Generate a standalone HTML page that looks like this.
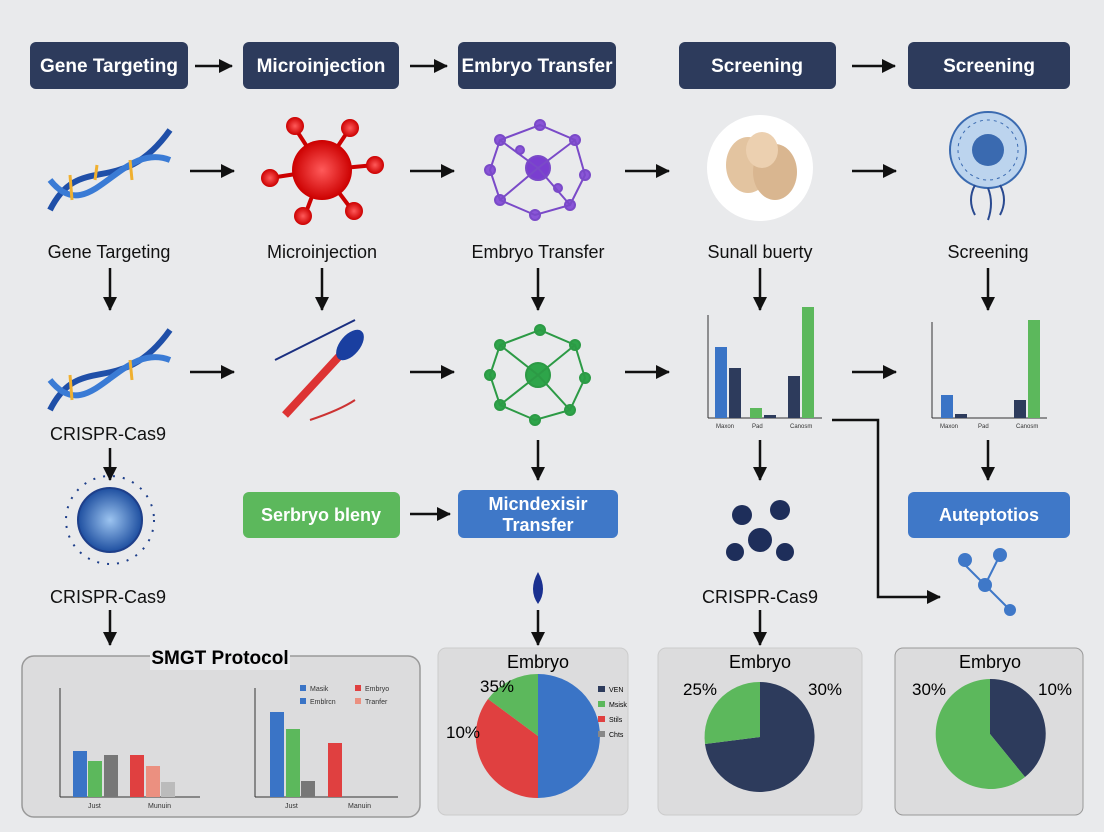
<!DOCTYPE html><html><head><style>body{margin:0;background:#e9eaec}svg{display:block}text{font-family:"Liberation Sans",sans-serif}</style></head><body>
<svg width="1104" height="832" viewBox="0 0 1104 832" xmlns="http://www.w3.org/2000/svg">
<defs><marker id="a" markerUnits="userSpaceOnUse" markerWidth="16" markerHeight="16" refX="13" refY="8" orient="auto"><path d="M0,1L14,8L0,15z" fill="#111"/></marker>
<radialGradient id="rg"><stop offset="0" stop-color="#ff5a5a"/><stop offset="1" stop-color="#c00"/></radialGradient>
<radialGradient id="bg"><stop offset="0" stop-color="#9cc4f0"/><stop offset="1" stop-color="#1e4fa0"/></radialGradient></defs>
<rect width="1104" height="832" fill="#e9eaec"/>
<g fill="#2d3b5c"><rect x="30" y="42" width="158" height="47" rx="6"/><rect x="243" y="42" width="156" height="47" rx="6"/><rect x="458" y="42" width="158" height="47" rx="6"/><rect x="679" y="42" width="157" height="47" rx="6"/><rect x="908" y="42" width="162" height="47" rx="6"/></g>
<g fill="#fff" font-size="19" font-weight="bold" text-anchor="middle"><text x="109" y="72">Gene Targeting</text><text x="321" y="72">Microinjection</text><text x="537" y="72">Embryo Transfer</text><text x="757" y="72">Screening</text><text x="989" y="72">Screening</text></g>
<g stroke="#111" stroke-width="2.5" marker-end="url(#a)">
<line x1="195" y1="66" x2="232" y2="66"/><line x1="410" y1="66" x2="447" y2="66"/><line x1="852" y1="66" x2="895" y2="66"/>
<line x1="190" y1="171" x2="234" y2="171"/><line x1="410" y1="171" x2="454" y2="171"/><line x1="625" y1="171" x2="669" y2="171"/><line x1="852" y1="171" x2="896" y2="171"/>
<line x1="190" y1="372" x2="234" y2="372"/><line x1="410" y1="372" x2="454" y2="372"/><line x1="625" y1="372" x2="669" y2="372"/><line x1="852" y1="372" x2="896" y2="372"/>
<line x1="110" y1="268" x2="110" y2="310"/><line x1="322" y1="268" x2="322" y2="310"/><line x1="538" y1="268" x2="538" y2="310"/><line x1="760" y1="268" x2="760" y2="310"/><line x1="988" y1="268" x2="988" y2="310"/>
<line x1="110" y1="448" x2="110" y2="480"/><line x1="538" y1="440" x2="538" y2="480"/><line x1="760" y1="440" x2="760" y2="480"/><line x1="988" y1="440" x2="988" y2="480"/>
<line x1="410" y1="514" x2="450" y2="514"/>
<line x1="110" y1="610" x2="110" y2="645"/><line x1="538" y1="610" x2="538" y2="645"/><line x1="760" y1="610" x2="760" y2="645"/>
<polyline points="832,420 878,420 878,597 940,597" fill="none"/></g>
<g stroke-width="6" fill="none"><path d="M50,210 C80,150 120,200 170,130" stroke="#1f4fa8"/><path d="M50,180 C90,230 120,140 170,160" stroke="#3a7bd5"/>
<path d="M50,410 C80,350 120,400 170,330" stroke="#1f4fa8"/><path d="M50,380 C90,430 120,340 170,360" stroke="#3a7bd5"/></g>
<g stroke="#f0b030" stroke-width="3"><line x1="70" y1="175" x2="72" y2="200"/><line x1="95" y1="180" x2="97" y2="165"/><line x1="130" y1="160" x2="132" y2="180"/><line x1="70" y1="375" x2="72" y2="400"/><line x1="130" y1="360" x2="132" y2="380"/></g>
<g stroke="#c00" stroke-width="4"><line x1="322" y1="170" x2="295" y2="128"/><line x1="322" y1="170" x2="350" y2="128"/><line x1="322" y1="170" x2="270" y2="178"/><line x1="322" y1="170" x2="375" y2="165"/><line x1="322" y1="170" x2="305" y2="215"/><line x1="322" y1="170" x2="352" y2="210"/></g>
<g fill="url(#rg)"><circle cx="322" cy="170" r="30"/><circle cx="295" cy="126" r="9"/><circle cx="350" cy="128" r="9"/><circle cx="270" cy="178" r="9"/><circle cx="375" cy="165" r="9"/><circle cx="303" cy="216" r="9"/><circle cx="354" cy="211" r="9"/></g>
<g stroke="#7a4ac8" stroke-width="2" fill="#7a3ed0"><circle cx="538" cy="168" r="12"/>
<g fill="#8a55d8"><circle cx="500" cy="140" r="5"/><circle cx="540" cy="125" r="5"/><circle cx="575" cy="140" r="5"/><circle cx="585" cy="175" r="5"/><circle cx="570" cy="205" r="5"/><circle cx="535" cy="215" r="5"/><circle cx="500" cy="200" r="5"/><circle cx="490" cy="170" r="5"/><circle cx="520" cy="150" r="4"/><circle cx="558" cy="188" r="4"/></g>
<path d="M500,140L540,125L575,140L585,175L570,205L535,215L500,200L490,170Z M538,168L500,140M538,168L575,140M538,168L570,205M538,168L500,200" fill="none"/></g>
<g stroke="#2c9a45" stroke-width="2" fill="#2ea54a"><circle cx="538" cy="375" r="12"/>
<g><circle cx="500" cy="345" r="5"/><circle cx="540" cy="330" r="5"/><circle cx="575" cy="345" r="5"/><circle cx="585" cy="378" r="5"/><circle cx="570" cy="410" r="5"/><circle cx="535" cy="420" r="5"/><circle cx="500" cy="405" r="5"/><circle cx="490" cy="375" r="5"/></g>
<path d="M500,345L540,330L575,345L585,378L570,410L535,420L500,405L490,375Z M538,375L500,345M538,375L575,345M538,375L570,410M538,375L500,405" fill="none"/></g>
<circle cx="760" cy="168" r="53" fill="#fff"/><ellipse cx="748" cy="165" rx="22" ry="28" fill="#e3c4a0"/><ellipse cx="775" cy="172" rx="22" ry="28" fill="#d9b690"/><ellipse cx="762" cy="150" rx="16" ry="18" fill="#ecd0b0"/>
<circle cx="988" cy="150" r="38" fill="#bcd4ee" stroke="#3a6ab0" stroke-width="2"/><circle cx="988" cy="150" r="30" fill="none" stroke="#3a6ab0" stroke-dasharray="3 4"/><circle cx="988" cy="150" r="16" fill="#3a6ab0"/>
<g stroke="#2a4a90" stroke-width="2" fill="none"><path d="M975,185 q-8,15 0,30"/><path d="M988,188 q6,15 0,32"/><path d="M1000,185 q8,15 0,30"/></g>
<line x1="285" y1="415" x2="345" y2="350" stroke="#d33" stroke-width="8"/><ellipse cx="350" cy="345" rx="10" ry="18" transform="rotate(40 350 345)" fill="#1a3fa0"/>
<path d="M275,360 q40,-20 80,-40" stroke="#1a2f80" stroke-width="2" fill="none"/><path d="M310,420 q30,-10 45,-20" stroke="#c33" stroke-width="2" fill="none"/>
<g font-size="18" text-anchor="middle" fill="#111"><text x="109" y="258">Gene Targeting</text><text x="322" y="258">Microinjection</text><text x="538" y="258">Embryo Transfer</text><text x="760" y="258">Sunall buerty</text><text x="988" y="258">Screening</text>
<text x="108" y="440">CRISPR-Cas9</text><text x="108" y="603">CRISPR-Cas9</text><text x="760" y="603">CRISPR-Cas9</text></g>
<g font-size="6" fill="#333"><line x1="708" y1="315" x2="708" y2="418" stroke="#333"/><line x1="708" y1="418" x2="822" y2="418" stroke="#333"/>
<rect x="715" y="347" width="12" height="71" fill="#3a74c6"/><rect x="729" y="368" width="12" height="50" fill="#2d3b5c"/><rect x="750" y="408" width="12" height="10" fill="#5cb85c"/><rect x="764" y="415" width="12" height="3" fill="#2d3b5c"/><rect x="788" y="376" width="12" height="42" fill="#2d3b5c"/><rect x="802" y="307" width="12" height="111" fill="#5cb85c"/>
<text x="716" y="428">Maxon</text><text x="752" y="428">Pad</text><text x="790" y="428">Canosm</text>
<line x1="932" y1="322" x2="932" y2="418" stroke="#333"/><line x1="932" y1="418" x2="1047" y2="418" stroke="#333"/>
<rect x="941" y="395" width="12" height="23" fill="#3a74c6"/><rect x="955" y="414" width="12" height="4" fill="#2d3b5c"/><rect x="1014" y="400" width="12" height="18" fill="#2d3b5c"/><rect x="1028" y="320" width="12" height="98" fill="#5cb85c"/>
<text x="940" y="428">Maxon</text><text x="978" y="428">Pad</text><text x="1016" y="428">Canosm</text></g>
<circle cx="110" cy="520" r="32" fill="url(#bg)" stroke="#1e3f8a" stroke-width="2"/><circle cx="110" cy="520" r="44" fill="none" stroke="#1e3f8a" stroke-width="2" stroke-dasharray="2 8"/>
<rect x="243" y="492" width="157" height="46" rx="6" fill="#5cb85c"/><rect x="458" y="490" width="160" height="48" rx="6" fill="#3f78c8"/><rect x="908" y="492" width="162" height="46" rx="6" fill="#3f78c8"/>
<g fill="#fff" font-size="18" font-weight="bold" text-anchor="middle"><text x="321" y="521">Serbryo bleny</text><text x="538" y="510">Micndexisir</text><text x="538" y="531">Transfer</text><text x="989" y="521">Auteptotios</text></g>
<path d="M538,572 q-10,18 0,32 q10,-14 0,-32z" fill="#1a3090"/>
<g fill="#1e2e5a"><circle cx="742" cy="515" r="10"/><circle cx="780" cy="510" r="10"/><circle cx="760" cy="540" r="12"/><circle cx="735" cy="552" r="9"/><circle cx="785" cy="552" r="9"/></g>
<g fill="#3f78c8"><circle cx="965" cy="560" r="7"/><circle cx="1000" cy="555" r="7"/><circle cx="985" cy="585" r="7"/><circle cx="1010" cy="610" r="6"/></g>
<path d="M960,560L985,585L1000,555M985,585L1010,610" stroke="#3f78c8" stroke-width="2" fill="none"/>
<rect x="22" y="656" width="398" height="161" rx="12" fill="#dcdcdd" stroke="#999" stroke-width="1.5"/><rect x="150" y="645" width="140" height="25" fill="#e9eaec"/>
<text x="220" y="664" font-size="19" font-weight="bold" text-anchor="middle">SMGT Protocol</text>
<g stroke="#333"><line x1="60" y1="688" x2="60" y2="797"/><line x1="60" y1="797" x2="200" y2="797"/><line x1="255" y1="688" x2="255" y2="797"/><line x1="255" y1="797" x2="398" y2="797"/></g>
<rect x="73" y="751" width="14" height="46" fill="#3a74c6"/><rect x="88" y="761" width="14" height="36" fill="#5cb85c"/><rect x="104" y="755" width="14" height="42" fill="#777"/><rect x="130" y="755" width="14" height="42" fill="#e04040"/><rect x="146" y="766" width="14" height="31" fill="#eb9080"/><rect x="161" y="782" width="14" height="15" fill="#bbb"/>
<rect x="270" y="712" width="14" height="85" fill="#3a74c6"/><rect x="286" y="729" width="14" height="68" fill="#5cb85c"/><rect x="301" y="781" width="14" height="16" fill="#777"/><rect x="328" y="743" width="14" height="54" fill="#e04040"/>
<g font-size="7" fill="#333"><rect x="300" y="685" width="6" height="6" fill="#3a74c6"/><text x="310" y="691">Masik</text><rect x="355" y="685" width="6" height="6" fill="#e04040"/><text x="365" y="691">Embryo</text><rect x="300" y="698" width="6" height="6" fill="#3a74c6"/><text x="310" y="704">Emblrcn</text><rect x="355" y="698" width="6" height="6" fill="#eb9080"/><text x="365" y="704">Tranfer</text>
<text x="88" y="808">Just</text><text x="148" y="808">Munuin</text><text x="285" y="808">Just</text><text x="348" y="808">Manuin</text></g>
<rect x="438" y="648" width="190" height="167" rx="8" fill="#dcdcdd" stroke="#ccc"/><rect x="658" y="648" width="204" height="167" rx="8" fill="#dcdcdd" stroke="#ccc"/><rect x="895" y="648" width="188" height="167" rx="8" fill="#dcdcdd" stroke="#999"/>
<g font-size="18" text-anchor="middle"><text x="538" y="668">Embryo</text><text x="760" y="668">Embryo</text><text x="990" y="668">Embryo</text></g>
<path d="M538,736 L538,674 A62,62 0 0 1 538,798 Z" fill="#3a74c6"/><path d="M538,736 L538,798 A62,62 0 0 1 488,699 Z" fill="#e04040"/><path d="M538,736 L488,699 A62,62 0 0 1 538,674 Z" fill="#5cb85c"/>
<g font-size="7"><rect x="598" y="686" width="7" height="6" fill="#2d3b5c"/><text x="609" y="692">VEN</text><rect x="598" y="701" width="7" height="6" fill="#5cb85c"/><text x="609" y="707">Msisk</text><rect x="598" y="716" width="7" height="6" fill="#e04040"/><text x="609" y="722">Stils</text><rect x="598" y="731" width="7" height="6" fill="#888"/><text x="609" y="737">Chts</text></g>
<path d="M760,737 L760,682 A55,55 0 1 1 705,744 Z" fill="#2d3b5c"/><path d="M760,737 L705,744 A55,55 0 0 1 760,682 Z" fill="#5cb85c"/>
<path d="M990,734 L990,679 A55,55 0 0 1 1025,777 Z" fill="#2d3b5c"/><path d="M990,734 L1025,777 A55,55 0 1 1 990,679 Z" fill="#5cb85c"/>
<g font-size="17"><text x="480" y="692">35%</text><text x="446" y="738">10%</text><text x="683" y="695">25%</text><text x="808" y="695">30%</text><text x="912" y="695">30%</text><text x="1038" y="695">10%</text></g>
</svg></body></html>
